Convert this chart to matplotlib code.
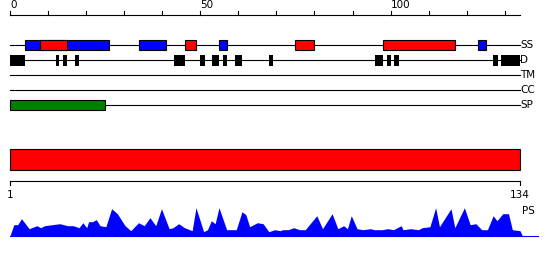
import numpy as np
import matplotlib.pyplot as plt
from matplotlib.patches import Rectangle

# sequence length and feature ranges (residue units)
seq_len = 134
top_ticks = [0, 50, 100]
row_names = ["SS", "D", "TM", "CC", "SP"]

ss_helix = [(4, 26), (34, 41), (55, 57), (123, 125)]
ss_strand = [(8, 15), (46, 49), (75, 80), (98, 117)]
disorder = [(0, 4), (12, 13), (14, 15), (17, 18), (43, 46), (50, 51.2), (53, 55),
            (56, 57), (59, 61), (68, 69), (96, 98), (99, 100), (101, 102.3),
            (127, 128.3), (129, 134)]
signal_pep = [(0, 25)]
domain = [(1, 134)]

# PS profile (residue, height)
ps_pos = [1, 2, 3, 4, 6, 8, 9, 10, 14, 16, 17.5, 19, 20, 21, 21.5, 22.5, 23.5, 24.5,
          26, 27.5, 29, 31, 32.5, 34.5, 36, 37.5, 39, 40.5, 42.5, 43.5, 45, 46.5,
          48.5, 49.5, 51.5, 52.5, 53.5, 54.5, 55.5, 57.5, 60, 61.5, 62.5, 63.5,
          65.5, 67, 68.5, 70, 71.5, 72, 73.5, 75, 76.5, 78, 81, 82.5, 85, 86.5, 88,
          89, 90, 91.5, 93, 95, 96, 98, 99.5, 101, 103, 103.5, 105.5, 107.5, 108.5,
          110.5, 112, 113, 116, 117, 119.5, 121, 122.5, 124, 125.5, 127, 128,
          129.5, 131, 132, 134, 134.6]
ps_val = [0, 11, 11, 17, 7, 10, 8, 10, 12, 10, 10, 8, 13, 8, 14, 14, 16, 10,
          9, 27, 22, 10, 5, 13, 10, 18, 10, 27, 7, 8, 12, 8,
          5, 28, 4, 6, 15, 12, 28, 6, 6, 24, 21, 9,
          13, 12, 4, 6, 5, 6, 6, 8, 6, 6, 20, 7, 22, 7, 10,
          7, 20, 7, 6, 7, 6, 6, 7, 6, 10, 6, 7, 6, 8,
          9, 28, 9, 27, 8, 28, 11, 12, 6, 6, 20, 15,
          22, 22, 6, 5, 0]

px = 510 / seq_len  # pixels per residue

fig = plt.figure(figsize=(5.5, 2.6), dpi=100)
ax = fig.add_axes([0, 0, 1, 1])
ax.set_xlim(-10 / px, 540 / px)
ax.set_ylim(260, 0)
ax.axis("off")

lw = 0.8
fs = 7.5

# top ruler
ax.plot([0, seq_len], [15, 15], color="black", lw=lw)
for t in range(0, seq_len + 1, 10):
    ax.plot([t, t], [15, 11], color="black", lw=lw)
for t in top_ticks:
    ax.text(t, 10, str(t), ha="left", va="bottom", fontsize=fs)

# track rows
row_y = [45, 60, 75, 90, 105]
for name, y in zip(row_names, row_y):
    ax.plot([0, seq_len], [y, y], color="black", lw=lw, zorder=1)
    ax.text(seq_len, y, name, ha="left", va="center", fontsize=fs)

for a, b in ss_helix:
    ax.add_patch(Rectangle((a, 40), b - a, 10, facecolor="blue", edgecolor="black", lw=lw, zorder=2))
for a, b in ss_strand:
    ax.add_patch(Rectangle((a, 40), b - a, 10, facecolor="red", edgecolor="black", lw=lw, zorder=3))
for a, b in disorder:
    ax.add_patch(Rectangle((a, 55), b - a, 10.5, facecolor="black", edgecolor="none", zorder=2))
for a, b in signal_pep:
    ax.add_patch(Rectangle((a, 100), b - a, 10, facecolor="green", edgecolor="black", lw=lw, zorder=2))

# domain bar and bottom ruler (1..seq_len)
to_x = lambda r: (np.asarray(r, dtype=float) - 1) * seq_len / (seq_len - 1)
for a, b in domain:
    ax.add_patch(Rectangle((to_x(a), 149), to_x(b) - to_x(a), 21, facecolor="red", edgecolor="black", lw=lw))
ax.plot([0, seq_len], [180.5, 180.5], color="black", lw=lw)
ax.plot([0, 0], [180.5, 185], color="black", lw=lw)
ax.plot([seq_len, seq_len], [180.5, 185], color="black", lw=lw)
ax.text(0, 190, "1", ha="center", va="top", fontsize=fs)
ax.text(seq_len, 190, str(seq_len), ha="center", va="top", fontsize=fs)

# PS profile
base = 235.7
ax.fill_between(to_x(ps_pos), base, base - np.array(ps_val), color="blue", lw=0)
ax.plot([0, 528 / px], [base, base], color="blue", lw=lw)
ax.text(to_x(134) + 0.5, 211, "PS", ha="left", va="center", fontsize=fs)

plt.savefig("out.png", dpi=100)
